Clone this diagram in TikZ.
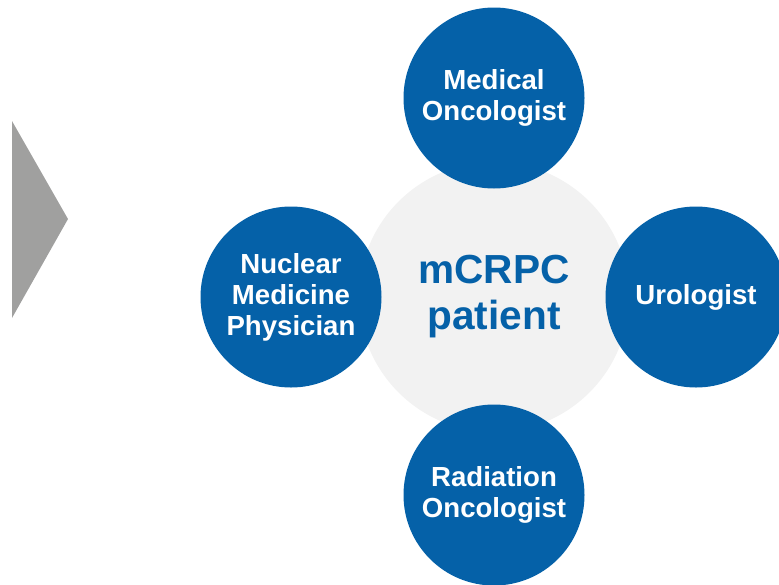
\documentclass[tikz,border=0pt]{standalone}
\usepackage{fontspec}
\setmainfont{Liberation Sans}
\usepackage{tikz}
\definecolor{teamblue}{HTML}{0561A8}
\definecolor{patientgrey}{HTML}{F2F2F2}
\definecolor{chevrongrey}{HTML}{A0A09F}
\tikzstyle{specialist}=[circle,fill=teamblue,text=white,inner sep=0pt,minimum size=181pt,align=center,font=\fontsize{27.6}{31}\selectfont\bfseries]
\tikzstyle{patient}=[circle,fill=patientgrey,text=teamblue,inner sep=0pt,minimum size=270pt,align=center,font=\fontsize{40.6}{46}\selectfont\bfseries]

\begin{document}
\begin{tikzpicture}[x=1pt,y=-1pt]
\clip (0,0) rectangle (779,584);
% side chevron
\fill[chevrongrey] (12,121)--(68,219)--(12,318)--cycle;
% patient in the middle, team around
\node[patient] (pat) at (494,297) {mCRPC\\patient};
\node[specialist] (medonc) at (494,98) {Medical\\Oncologist};
\node[specialist] (uro) at (696,297) {Urologist};
\node[specialist] (radonc) at (494,495) {Radiation\\Oncologist};
\node[specialist] (nucmed) at (291,297) {Nuclear\\Medicine\\Physician};
\end{tikzpicture}
\end{document}
